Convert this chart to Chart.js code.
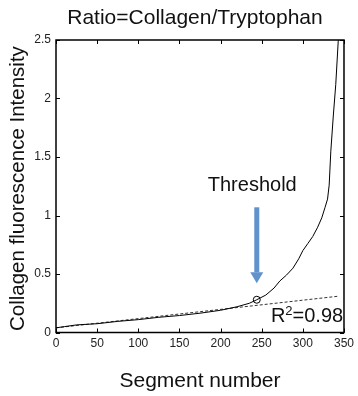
<!DOCTYPE html>
<html>
<head>
<meta charset="utf-8">
<script src="https://cdn.jsdelivr.net/npm/chart.js@4.4.1/dist/chart.umd.min.js"></script>
<style>
html,body{margin:0;padding:0;background:#fff;}
#wrap{width:358px;height:396px;position:relative;}
</style>
</head>
<body>
<div id="wrap"><canvas id="c" width="358" height="396"></canvas></div>
<script>
// ---- data ----
const segments = [0,10,25,50,75,100,125,150,175,200,220,235,244,255,265,272,280,288,295,300,306,312,318,323,327,330,332,334,337,340,343,345];
const ratio    = [0.04,0.05,0.065,0.075,0.095,0.11,0.13,0.145,0.165,0.19,0.22,0.25,0.28,0.32,0.38,0.44,0.49,0.55,0.63,0.70,0.76,0.82,0.90,0.98,1.07,1.14,1.26,1.55,1.85,2.12,2.49,2.7];
const fitX = [0,343];
const fitY = [0.04,0.31];
const thresholdX = [244];
const thresholdY = [0.28];
const xTicks = [0,50,100,150,200,250,300,350];
const yTickLabels = ['0','0.5','1','1.5','2','2.5'];
const titleText = 'Ratio=Collagen/Tryptophan';
const xTitle = 'Segment number';
const yTitle = 'Collagen fluorescence Intensity';
const thresholdLabel = 'Threshold';
const r2Label = '0.98';
// annotation anchors in data units
const arrowX = 244, arrowTop = 1.07, arrowTip = 0.42;
const thresholdTextPos = {x: 238.5, y: 1.26};
const r2Pos = {x: 349, y: 0.09};
const yTitlePos = {y: 1.23};

const FONT = "'Liberation Sans', Arial, Helvetica, sans-serif";
const TICKFONT = "'Liberation Sans Narrow', 'Liberation Sans', Arial, sans-serif";

const decor = {
  id: 'decor',
  afterDatasetsDraw(chart) {
    const {ctx, chartArea: a, scales: {x, y}} = chart;
    ctx.save();
    // frame
    ctx.strokeStyle = '#000';
    ctx.lineWidth = 1.5;
    ctx.strokeRect(a.left, a.top, a.right - a.left, a.bottom - a.top);
    // inward ticks, all four sides
    ctx.lineWidth = 1;
    ctx.beginPath();
    x.ticks.forEach(t => {
      const px = Math.round(x.getPixelForValue(t.value)) + 0.5;
      ctx.moveTo(px, a.bottom); ctx.lineTo(px, a.bottom - 4);
      ctx.moveTo(px, a.top); ctx.lineTo(px, a.top + 4);
    });
    y.ticks.forEach(t => {
      const py = Math.round(y.getPixelForValue(t.value)) + 0.5;
      ctx.moveTo(a.left, py); ctx.lineTo(a.left + 4, py);
      ctx.moveTo(a.right, py); ctx.lineTo(a.right - 4, py);
    });
    ctx.stroke();
    // arrow
    const ax = x.getPixelForValue(arrowX);
    const at = y.getPixelForValue(arrowTop);
    const ab = y.getPixelForValue(arrowTip);
    ctx.fillStyle = '#6092cc';
    ctx.fillRect(ax - 2.5, at, 5, (ab - at) - 11);
    ctx.beginPath();
    ctx.moveTo(ax - 6.5, ab - 11);
    ctx.lineTo(ax + 6.5, ab - 11);
    ctx.lineTo(ax, ab);
    ctx.closePath();
    ctx.fill();
    // Threshold label
    ctx.fillStyle = '#111';
    ctx.font = '20px ' + FONT;
    ctx.textAlign = 'center';
    ctx.textBaseline = 'middle';
    ctx.fillText(thresholdLabel, x.getPixelForValue(thresholdTextPos.x), y.getPixelForValue(thresholdTextPos.y));
    // R^2 label (right aligned)
    ctx.textBaseline = 'alphabetic';
    ctx.textAlign = 'left';
    const rx = x.getPixelForValue(r2Pos.x), ry = y.getPixelForValue(r2Pos.y);
    ctx.font = '20px ' + FONT;
    const w1 = ctx.measureText('R').width;
    const w3 = ctx.measureText('=' + r2Label).width;
    ctx.font = '13px ' + FONT;
    const w2 = ctx.measureText('2').width;
    let sx = rx - (w1 + w2 + w3);
    ctx.font = '20px ' + FONT;
    ctx.fillText('R', sx, ry);
    ctx.font = '13px ' + FONT;
    ctx.fillText('2', sx + w1, ry - 7);
    ctx.font = '20px ' + FONT;
    ctx.fillText('=' + r2Label, sx + w1 + w2, ry);
    // main title
    ctx.font = '21px ' + FONT;
    ctx.textAlign = 'center';
    ctx.textBaseline = 'middle';
    ctx.fillText(titleText, 195, 18);
    // y-axis title
    ctx.save();
    ctx.translate(18, y.getPixelForValue(yTitlePos.y));
    ctx.rotate(-Math.PI / 2);
    ctx.font = '20.5px ' + FONT;
    ctx.fillText(yTitle, 0, 0);
    ctx.restore();
    ctx.restore();
  }
};

new Chart(document.getElementById('c'), {
  type: 'line',
  data: {
    datasets: [
      {
        label: 'ratio',
        data: segments.map((s, i) => ({x: s, y: ratio[i]})),
        borderColor: '#000', borderWidth: 1, pointRadius: 0, tension: 0, fill: false
      },
      {
        label: 'fit',
        data: fitX.map((s, i) => ({x: s, y: fitY[i]})),
        borderColor: '#333', borderWidth: 1, borderDash: [3, 2], pointRadius: 0, fill: false
      },
      {
        label: 'threshold',
        data: thresholdX.map((s, i) => ({x: s, y: thresholdY[i]})),
        showLine: false, pointRadius: 3.5, pointBorderColor: '#000', pointBorderWidth: 1,
        pointBackgroundColor: 'rgba(0,0,0,0)'
      }
    ]
  },
  options: {
    responsive: false,
    animation: false,
    devicePixelRatio: 1,
    layout: {padding: {top: 40, right: 10, left: 0, bottom: 0}},
    plugins: {legend: {display: false}, tooltip: {enabled: false}, title: {display: false}},
    scales: {
      x: {
        type: 'linear', min: 0, max: 350,
        afterBuildTicks: s => { s.ticks = xTicks.map(v => ({value: v})); },
        grid: {display: false, drawTicks: false},
        border: {display: false},
        ticks: {color: '#222', font: {size: 12, family: TICKFONT}, padding: 4, maxRotation: 0, autoSkip: false},
        title: {display: true, text: xTitle, color: '#111', font: {size: 21, family: FONT}, padding: {top: 0, bottom: 2}},
        afterFit: s => { s.height = 63.5; }
      },
      y: {
        type: 'linear', min: 0, max: 2.5,
        ticks: {stepSize: 0.5, color: '#222', font: {size: 12, family: TICKFONT}, padding: 5,
          callback: (v) => yTickLabels[Math.round(v / 0.5)]},
        grid: {display: false, drawTicks: false},
        border: {display: false},
        title: {display: false},
        afterFit: s => { s.width = 56; }
      }
    }
  },
  plugins: [decor]
});
</script>
</body>
</html>
